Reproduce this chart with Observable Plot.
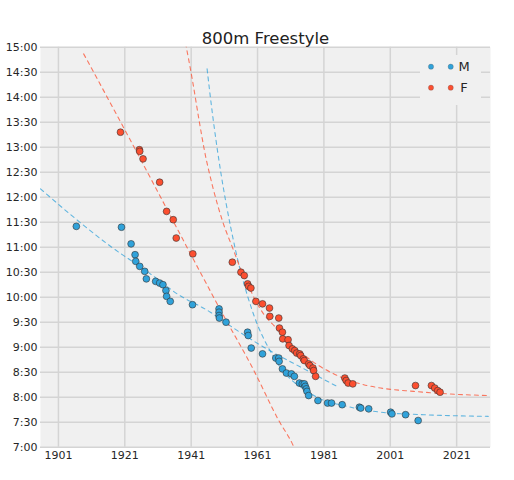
<!DOCTYPE html>
<html><head><meta charset="utf-8">
<script src="https://cdn.jsdelivr.net/npm/d3@7"></script>
<script src="https://cdn.jsdelivr.net/npm/@observablehq/plot@0.6"></script>
<style>
body{margin:0;background:#fff;}
#chart svg{font-family:"DejaVu Sans",sans-serif;display:block;}
</style>
</head><body><div id="chart"></div>
<script>
// Women's world-record progression (year, seconds)
const fYears = [1919.7,1925.4,1925.5,1926.5,1931.5,1933.6,1935.6,1936.5,1941.5,1953.4,1956.0,1957.0,1958.0,1958.3,1959.0,1960.5,1962.5,1964.6,1964.7,1967.4,1967.6,1968.5,1968.6,1970.2,1970.5,1971.5,1972.2,1972.8,1973.7,1974.0,1974.8,1975.1,1976.4,1976.8,1977.7,1977.9,1978.5,1987.3,1987.7,1988.3,1989.7,2008.6,2013.4,2014.4,2015.3,2016.0];
const fTimes = [798,777,775,766,738,703,693,671,652,642,630,626,616,613,611,595,592,587,577,575,563,558,550,549,542,538,536,533,532,530,526,524,520,518,515,512,505,503,500,497,496,494,494,491,488,486];
// Men's world-record progression (year, seconds)
const mYears = [1906.4,1920.0,1922.9,1924.1,1924.3,1925.5,1927.0,1927.5,1930.3,1931.5,1932.5,1933.4,1933.6,1934.7,1941.4,1949.4,1949.4,1949.4,1949.5,1951.5,1958.0,1958.2,1959.1,1962.5,1966.5,1967.4,1967.5,1968.5,1969.7,1971.2,1972.1,1973.6,1974.5,1975.1,1975.4,1975.7,1975.9,1976.4,1979.2,1982.1,1983.3,1986.5,1991.7,1992.1,1994.5,2001.1,2001.5,2005.6,2009.4];
const mTimes = [685,684,664,651,643,637,631,622,619,617,615,608,601,595,591,586,582,578,575,570,558,554,539,532,527,527,523,514,509,508,505,497,496,496,493,490,487,482,476,473,473,471,468,467,466,462,460,459,452];
// Fitted trend curves
const fFit1Years = [1908.6,1922.2,1931.8,1940.8,1949.8,1959.9,1967.4,1971.5,1972.2];
const fFit1Times = [892,792,720,652,585,512,452,424,418];
const fFit2Years = [1939.3,1941.4,1943.4,1945.0,1947.4,1950.4,1953.8,1955.9,1958.0,1960.4,1962.8,1966.4,1970.0,1974.0,1979.0,1983.0,1988.0,1993.0,1998.1,2008.1,2018.3,2030.5];
const fFit2Times = [905,860,812,776,734,692,656,634,616,596,580,564,548,534,519,510,501,495,491,487,484,482];
const mFit1Years = [1895.6,1905.6,1915.7,1928.7,1936.8,1946.8,1951.9,1962.9,1975.0,1985.4];
const mFit1Times = [730,696,664,628,604,582,568,540,514,492];
const mFit2Years = [1945.8,1947.1,1948.5,1954.4,1959.4,1965.9,1978.0,1988.0,1998.1,2011.1,2030.5];
const mFit2Times = [874,830,788,656,584,528,482,469,462,459,457];
// Axes
const xTicks = [1901,1921,1941,1961,1981,2001,2021];
const yTicks = [420,450,480,510,540,570,600,630,660,690,720,750,780,810,840,870,900];
const seriesNames = ["M","F"];
const title = "800m Freestyle";

const BLUE = "#30a2da", RED = "#fc4f30";
const pts = (xs, ys) => xs.map((x, i) => ({x, y: ys[i]}));
const fmt = s => `${Math.floor(s / 60)}:${String(s % 60).padStart(2, "0")}`;
const lineOpts = c => ({x: "x", y: "y", stroke: c, strokeOpacity: 0.75, strokeWidth: 1.1, strokeDasharray: "4,4", curve: "monotone-x", clip: true});
const dotOpts = c => ({x: "x", y: "y", r: 3.4, fill: c, stroke: "#333", strokeWidth: 0.6});

const plot = Plot.plot({
  width: 514, height: 480,
  marginLeft: 40, marginRight: 24, marginTop: 46.7, marginBottom: 33.3,
  style: {fontFamily: "DejaVu Sans, sans-serif", fontSize: "11px", color: "#262626", background: "#fff", overflow: "visible"},
  x: {domain: [1895.6, 2031.2], ticks: xTicks, tickFormat: d => String(d), tickSize: 0, tickPadding: 4, label: null},
  y: {domain: [420, 900], ticks: yTicks, tickFormat: fmt, tickSize: 0, tickPadding: 3, label: null},
  marks: [
    Plot.frame({fill: "#f0f0f0", stroke: null}),
    Plot.gridX(xTicks, {stroke: "#d4d4d4", strokeOpacity: 1, strokeWidth: 1.5}),
    Plot.gridY(yTicks, {stroke: "#d4d4d4", strokeOpacity: 1, strokeWidth: 1.5}),
    Plot.line(pts(mFit1Years, mFit1Times), lineOpts(BLUE)),
    Plot.line(pts(mFit2Years, mFit2Times), lineOpts(BLUE)),
    Plot.line(pts(fFit1Years, fFit1Times), lineOpts(RED)),
    Plot.line(pts(fFit2Years, fFit2Times), lineOpts(RED)),
    Plot.dot(pts(mYears, mTimes), dotOpts(BLUE)),
    Plot.dot(pts(fYears, fTimes), dotOpts(RED)),
    Plot.text([title], {frameAnchor: "top", lineAnchor: "bottom", dy: -3, fontSize: 16.5, fill: "#222"})
  ]
});

// Legend (upper right, inside the plot frame)
const svg = d3.select(plot);
const lg = svg.append("g").attr("transform", "translate(420,55)");
lg.append("rect").attr("width", 61).attr("height", 50).attr("fill", "#f0f0f0");
[BLUE, RED].forEach((c, i) => {
  const yy = 11.7 + i * 21;
  [11, 30.7].forEach(xx => lg.append("circle").attr("cx", xx).attr("cy", yy).attr("r", 2.6).attr("fill", c).attr("stroke", "#555").attr("stroke-width", 0.3));
  lg.append("text").attr("x", 44).attr("y", yy).attr("dy", "0.36em").attr("font-size", 13).attr("fill", "#262626").text(seriesNames[i]);
});

document.getElementById("chart").appendChild(plot);
</script>
</body></html>
